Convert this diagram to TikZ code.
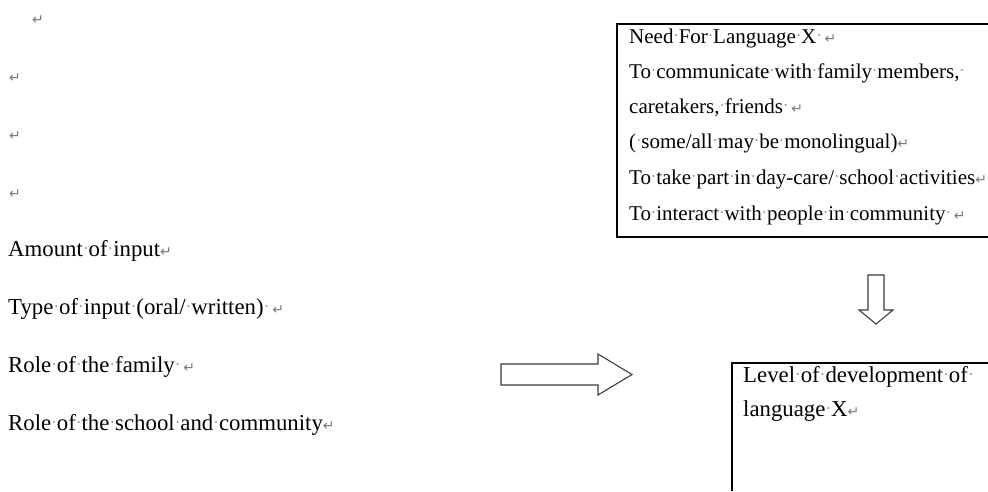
\documentclass[tikz,border=0pt]{standalone}
\usepackage{fontspec}
\setmainfont{Liberation Serif}
\newfontfamily\markfont{DejaVu Sans}
\definecolor{markgray}{RGB}{120,120,120}
\definecolor{arrowgray}{RGB}{60,60,60}
% paragraph mark and space mark as Word shows them
\newcommand{\pmark}{{\markfont\fontsize{14}{14}\selectfont\textcolor{markgray}{↵}}}
\newcommand{\sd}{\makebox[0.25em][c]{\raisebox{0.12em}{\fontsize{15}{15}\selectfont\textcolor{markgray}{·}}}}

\begin{document}
\begin{tikzpicture}[x=1pt,y=-1pt,
  txt/.style={anchor=base west,inner sep=0pt,font=\fontsize{22.8}{22.8}\selectfont},
  boxtxt/.style={anchor=base west,inner sep=0pt,font=\fontsize{21}{21}\selectfont},
  lvltxt/.style={anchor=base west,inner sep=0pt,font=\fontsize{22.8}{22.8}\selectfont},
  blockarrow/.style={draw=arrowgray,line width=1.1pt,line join=miter},
  frame/.style={draw=black,line width=1.6pt}]
\useasboundingbox (0,0) rectangle (988,491);

% empty lines
\node[txt] (e1) at (32,24) {\pmark};
\foreach \y [count=\i from 2] in {82,140,198}
  \node[txt] (e\i) at (9,\y) {\pmark};

% factors
\node[txt] (amount) at (8,256) {Amount\sd of\sd input\pmark};
\node[txt] (type) at (8,314) {Type\sd of\sd input\sd(oral/\sd written)\sd\hspace{3pt}\pmark};
\node[txt] (family) at (8,372) {Role\sd of\sd the\sd family\sd\hspace{3pt}\pmark};
\node[txt] (school) at (8,430) {Role\sd of\sd the\sd school\sd and\sd community\pmark};

% need box
\draw[frame] (988,24) -- (617,24) -- (617,237) -- (988,237);
\node[boxtxt] (need) at (629,43) {Need\sd For\sd Language\sd X\sd\hspace{3pt}\pmark};
\node[boxtxt] (need1) at (629,78) {To\sd communicate\sd with\sd family\sd members,\sd};
\node[boxtxt] (need2) at (629,113) {caretakers,\sd friends\sd\hspace{3pt}\pmark};
\node[boxtxt] (need3) at (629,148) {(\sd some/all\sd may\sd be\sd monolingual)\pmark};
\node[boxtxt] (need4) at (629,184) {To\sd take\sd part\sd in\sd day-care/\sd school\sd activities\pmark};
\node[boxtxt] (need5) at (629,220) {To\sd interact\sd with\sd people\sd in\sd community\sd\hspace{3pt}\pmark};

% level box
\draw[frame] (988,363) -- (732,363) -- (732,491);
\node[lvltxt] (level) at (743,382) {Level\sd of\sd development\sd of\sd};
\node[lvltxt] (level1) at (743,416) {language\sd X\pmark};

% block arrows
\coordinate (r) at (501,374);
\draw[blockarrow] (r) ++(0,-10) -- ++(97,0) -- ++(0,-10) -- ++(34,20.5)
  -- ++(-34,20.5) -- ++(0,-10) -- ++(-97,0) -- cycle;
\coordinate (d) at (876,275);
\draw[blockarrow] (d) ++(-8,0) -- ++(16,0) -- ++(0,35) -- ++(9,0) -- ++(-17,14)
  -- ++(-17,-14) -- ++(9,0) -- cycle;
\end{tikzpicture}
\end{document}
